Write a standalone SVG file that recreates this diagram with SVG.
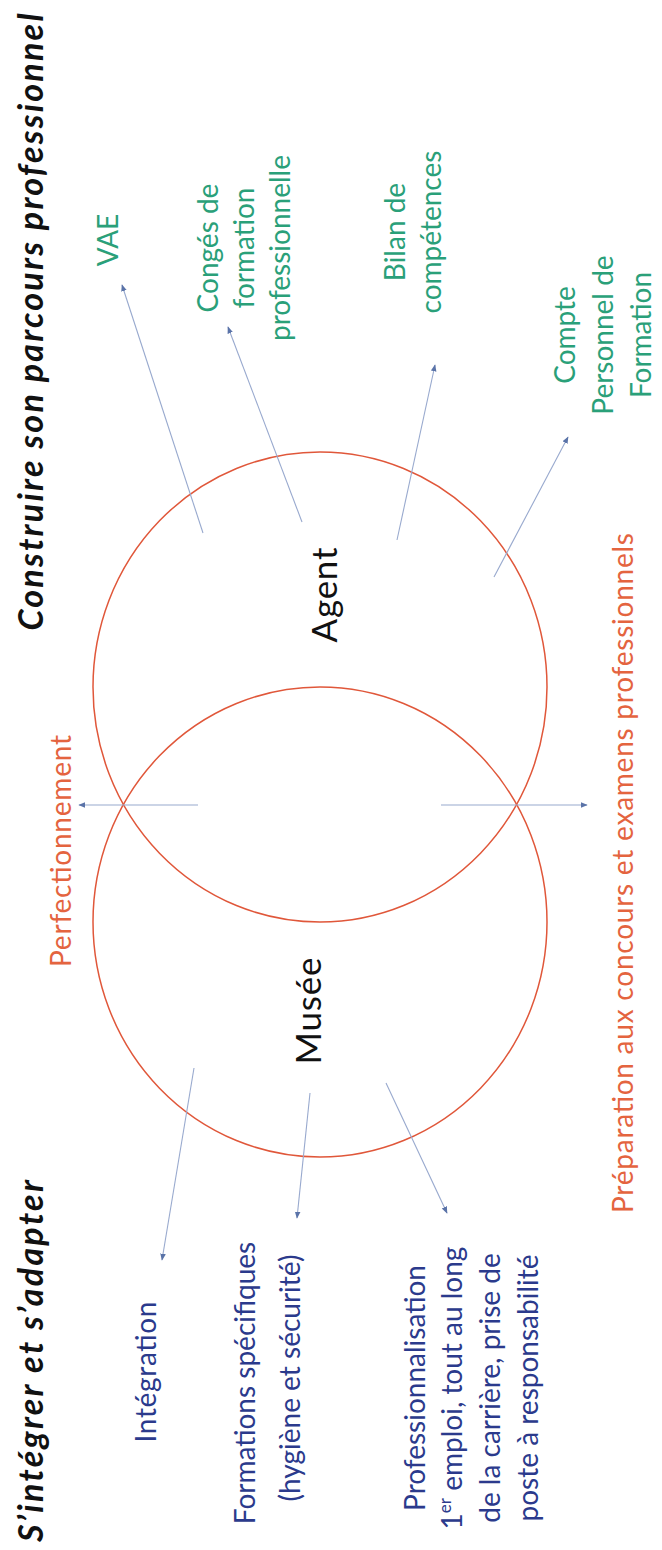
<svg xmlns="http://www.w3.org/2000/svg" width="662" height="1550" viewBox="0 0 662 1550">
<style>
text { font-family: Lato, "Liberation Sans", sans-serif; text-anchor: middle; }
.title { font-weight: bold; font-style: italic; font-size: 34px; fill: #111111; }
.big { font-size: 35px; fill: #111111; }
.or { font-size: 28px; fill: #e4643f; }
.gr { font-size: 28px; fill: #2aa079; }
.bl { font-size: 28px; fill: #2b3a8c; }
.circle { fill: none; stroke: #e0573a; stroke-width: 1.5; }
.conn { stroke: #98a9ce; stroke-width: 1.1; fill: none; marker-end: url(#ah); }
</style>
<defs>
<marker id="ah" viewBox="0 0 10 10" refX="9" refY="5" markerWidth="7" markerHeight="7" orient="auto" markerUnits="userSpaceOnUse">
<path d="M0,1 L10,5 L0,9 z" fill="#5a73a8"/>
</marker>
</defs>
<rect x="0" y="0" width="662" height="1550" fill="#ffffff"/>

<g id="titles">
<text class="title" transform="translate(43,322) rotate(-90)" textLength="617">Construire son parcours professionnel</text>
<text class="title" transform="translate(43,1361) rotate(-90)" textLength="362">S’intégrer et s’adapter</text>
</g>

<g id="agent">
<ellipse class="circle" cx="320" cy="687" rx="227" ry="235"/>
<text class="big" transform="translate(337,595) rotate(-90)" textLength="95">Agent</text>
</g>

<g id="musee">
<ellipse class="circle" cx="320" cy="922" rx="227" ry="235"/>
<text class="big" transform="translate(321,1011) rotate(-90)" textLength="107">Musée</text>
</g>

<g id="connectors">
<path class="conn" d="M203,533 L122,285"/>
<path class="conn" d="M302,522 L228,327"/>
<path class="conn" d="M397,540 L435,365"/>
<path class="conn" d="M494,577 L568,437"/>
<path class="conn" d="M198,805 L79,805"/>
<path class="conn" d="M441,805 L587,805"/>
<path class="conn" d="M194,1068 L162,1260"/>
<path class="conn" d="M310,1093 L297,1218"/>
<path class="conn" d="M386,1083 L447,1213"/>
</g>

<g id="perfectionnement">
<text class="or" transform="translate(71,851) rotate(-90)" textLength="232">Perfectionnement</text>
</g>
<g id="preparation">
<text class="or" transform="translate(633,873) rotate(-90)" textLength="680">Préparation aux concours et examens professionnels</text>
</g>

<g id="vae">
<text class="gr" transform="translate(118,240) rotate(-90)">VAE</text>
</g>
<g id="conges">
<text class="gr" transform="translate(218,248) rotate(-90)">Congés de</text>
<text class="gr" transform="translate(254,248) rotate(-90)">formation</text>
<text class="gr" transform="translate(290,248) rotate(-90)">professionnelle</text>
</g>
<g id="bilan">
<text class="gr" transform="translate(405,232) rotate(-90)">Bilan de</text>
<text class="gr" transform="translate(441,232) rotate(-90)">compétences</text>
</g>
<g id="compte">
<text class="gr" transform="translate(575,335) rotate(-90)">Compte</text>
<text class="gr" transform="translate(613,335) rotate(-90)">Personnel de</text>
<text class="gr" transform="translate(651,335) rotate(-90)">Formation</text>
</g>

<g id="integration">
<text class="bl" transform="translate(156,1372) rotate(-90)" textLength="141">Intégration</text>
</g>
<g id="formations">
<text class="bl" transform="translate(255,1383) rotate(-90)">Formations spécifiques</text>
<text class="bl" transform="translate(300,1378) rotate(-90)">(hygiène et sécurité)</text>
</g>
<g id="professionnalisation">
<text class="bl" transform="translate(425,1388) rotate(-90)">Professionnalisation</text>
<text class="bl" transform="translate(462,1388) rotate(-90)">1<tspan font-size="17" dy="-11">er</tspan><tspan dy="11"> emploi, tout au long</tspan></text>
<text class="bl" transform="translate(500,1388) rotate(-90)">de la carrière, prise de</text>
<text class="bl" transform="translate(538,1388) rotate(-90)">poste à responsabilité</text>
</g>
</svg>
